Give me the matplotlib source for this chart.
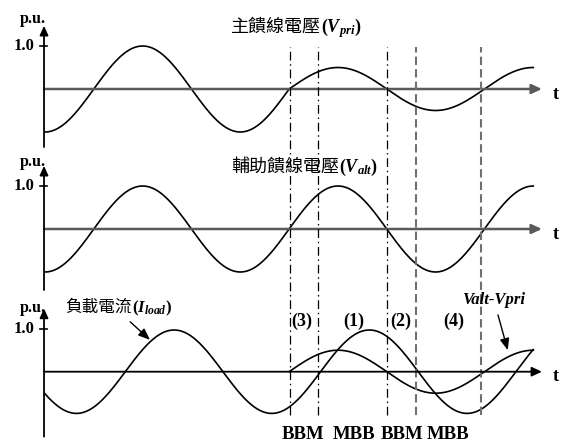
import matplotlib
matplotlib.use("Agg")
import matplotlib.pyplot as plt
import matplotlib.transforms as mtransforms
import numpy as np

plt.rcParams['font.family'] = ['Liberation Serif', 'Noto Sans CJK TC']
plt.rcParams['mathtext.fontset'] = 'custom'
plt.rcParams['mathtext.rm'] = 'Liberation Serif:bold'
plt.rcParams['mathtext.it'] = 'Liberation Serif:bold:italic'
plt.rcParams['mathtext.bf'] = 'Liberation Serif:bold'

# waveform data (angle in electrical degrees)
t_end = 900
transfer_deg = 450            # Vpri drops here
vpri_amp = [1.0, 0.5]         # before / after transfer
valt_amp = 1.0
iload_amp = 0.97
iload_lag = 58                # current lags voltage

switch_deg = [451, 503, 630, 684, 804]
switch_kind = ['dashdot', 'dashdot', 'dashdot', 'dashed', 'dashed']
region_deg = [473, 570, 656, 753]
region_labels = ['(3)', '(1)', '(2)', '(4)']
mode_deg = [476, 570, 658, 743]
mode_labels = ['BBM', 'MBB', 'BBM', 'MBB']

t = np.linspace(0, t_end, 1200)
rad = np.radians(t)
valt = -valt_amp * np.cos(rad)
vpri = -np.where(t < transfer_deg, vpri_amp[0], vpri_amp[1]) * np.cos(rad)
iload = -iload_amp * np.cos(np.radians(t - iload_lag))
after = t >= transfer_deg
diff = (valt - vpri)[after]

W, H = 563, 444
fig = plt.figure(figsize=(W / 100, H / 100), dpi=100)

px_per_deg = 0.5425
x0_px = 45
unit_px = 43
zero_px = [89, 229, 371.7]
xlim = (-x0_px / px_per_deg, (W - x0_px) / px_per_deg)

axes = []
for z in zero_px:
    ax = fig.add_axes([0, (H - (z + 59)) / H, 1, 148 / H])
    ax.set_xlim(*xlim)
    ax.set_ylim(-59 / unit_px, 89 / unit_px)
    ax.axis('off')
    axes.append(ax)
ax1, ax2, ax3 = axes

hcolor = ['#5a5a5a', '#5a5a5a', 'black']
hlw = [1.8, 1.8, 1.3]
pu_y = [1.62, 1.55, 1.48]
ybot = [-1.35, -1.42, -1.51]
yaxis_x = -1.8

for i, ax in enumerate(axes):
    # t axis
    ax.annotate('', xy=(916, 0), xytext=(yaxis_x, 0),
                arrowprops=dict(arrowstyle='-|>,head_length=0.6,head_width=0.28',
                                color=hcolor[i], lw=hlw[i], shrinkA=0, shrinkB=0,
                                mutation_scale=10))
    # p.u. axis
    ax.annotate('', xy=(yaxis_x, 1.47), xytext=(yaxis_x, ybot[i]),
                arrowprops=dict(arrowstyle='-|>,head_length=0.55,head_width=0.25',
                                color='black', lw=1.3, shrinkA=0, shrinkB=0,
                                mutation_scale=10))
    ax.plot([-9, 3], [1, 1], color='black', lw=1.2)
    ax.text(-19, 1.0, '1.0', ha='right', va='center', fontsize=12, weight='bold')
    ax.text(-23, pu_y[i], 'p.u.', ha='center', va='center', fontsize=11.5, weight='bold')
    ax.text(942, -0.12, 't', ha='center', va='center', fontsize=13, weight='bold')

ax1.plot(t, vpri, color='black', lw=1.2)
ax2.plot(t, valt, color='black', lw=1.2)
ax3.plot(t, iload, color='black', lw=1.2)
ax3.plot(t[after], diff, color='black', lw=1.2)


def cjk_label(ax, x, y, cjk, math, size):
    # Chinese part in a CJK font, then the symbol part right after it
    t1 = ax.text(x, y, cjk, fontsize=size, family=['Noto Sans CJK TC'],
                 ha='left', va='baseline')
    fig.canvas.draw()
    bb = t1.get_window_extent()
    x2 = ax.transData.inverted().transform((bb.x1, 0))[0]
    ax.text(x2, y, math, fontsize=size, ha='left', va='baseline')


cjk_label(ax1, 343, 1.33, '主饋線電壓', r'$(V_{pri})$', 13)
cjk_label(ax2, 343, 1.33, '輔助饋線電壓', r'$(V_{alt})$', 13)
cjk_label(ax3, 37, 1.39, '負載電流', r'$(I_{load})$', 12)
ax3.text(768, 1.66, 'Valt-Vpri', fontsize=12, style='italic', weight='bold',
         ha='left', va='center')

arrow_kw = dict(arrowstyle='-|>,head_length=0.7,head_width=0.28', color='black',
                lw=1.0, shrinkA=0, shrinkB=0, mutation_scale=10)
ax3.annotate('', xy=(193.5, 0.74), xytext=(157, 1.16), arrowprops=arrow_kw)
ax3.annotate('', xy=(853, 0.50), xytext=(835, 1.32), arrowprops=arrow_kw)

for x, lab in zip(region_deg, region_labels):
    ax3.text(x, 1.16, lab, fontsize=13, weight='bold', ha='center', va='center')
for x, lab in zip(mode_deg, mode_labels):
    ax3.text(x, -1.47, lab, fontsize=13.5, weight='bold', ha='center', va='center')

# switching instants across all three panels
trans = mtransforms.blended_transform_factory(ax3.transData, fig.transFigure)
for x, kind in zip(switch_deg, switch_kind):
    if kind == 'dashdot':
        ax3.plot([x, x], [1 - 415 / H, 1 - 47 / H], transform=trans, clip_on=False,
                 color='black', lw=0.9, linestyle=(0, (7, 3, 1.2, 3)))
    else:
        ax3.plot([x, x], [1 - 415 / H, 1 - 47 / H], transform=trans, clip_on=False,
                 color='#707070', lw=1.5, linestyle=(0, (4, 2)))

fig.savefig('out.png', dpi=100)
